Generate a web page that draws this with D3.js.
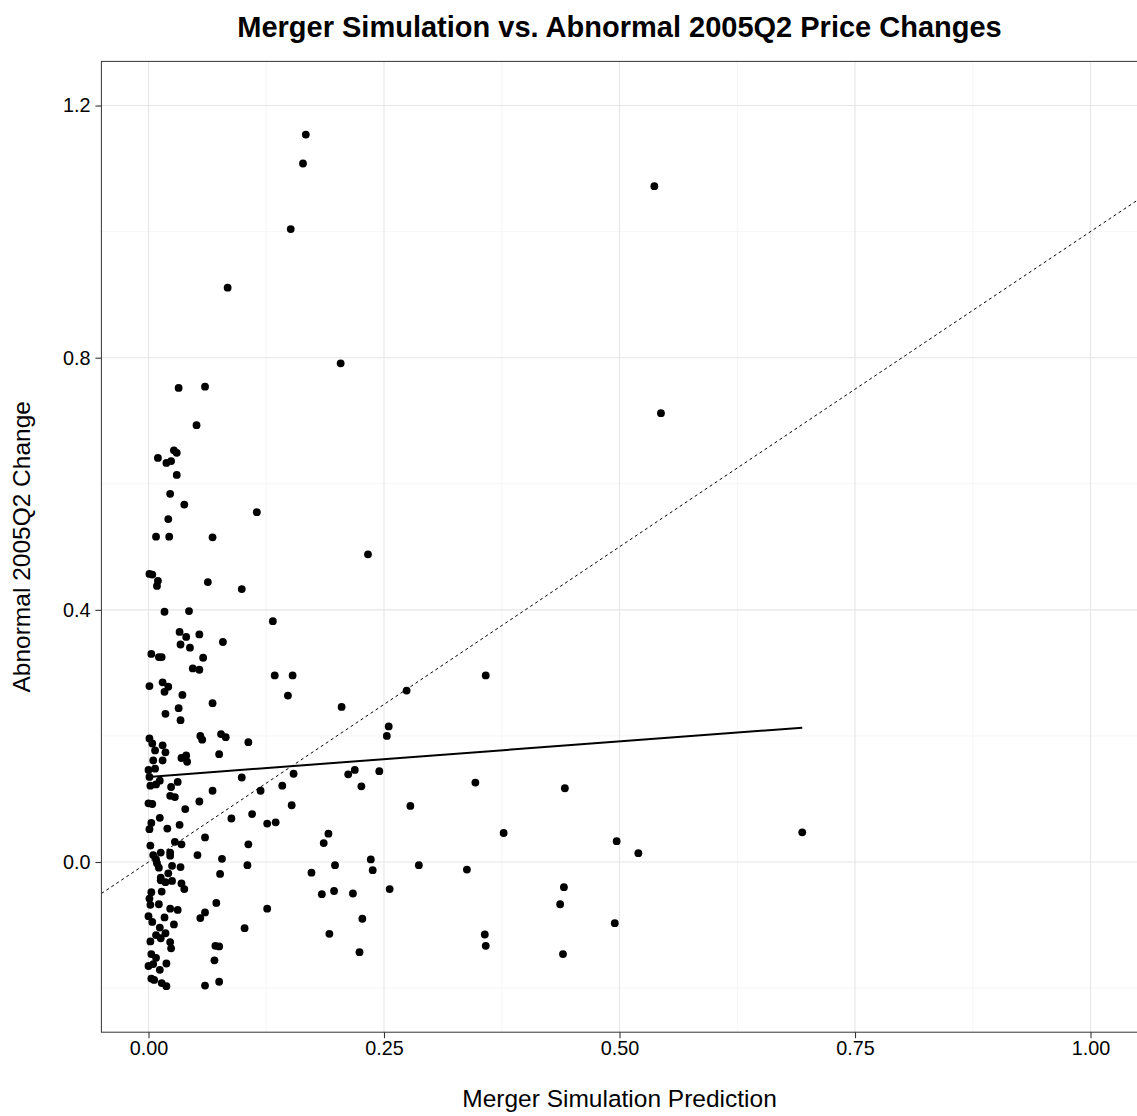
<!DOCTYPE html>
<html>
<head>
<meta charset="utf-8">
<script src="https://cdn.jsdelivr.net/npm/d3@7"></script>
<style>
  body { margin: 0; background: #fff; }
  svg { display: block; font-family: "Liberation Sans", Arial, Helvetica, sans-serif; }
</style>
</head>
<body>
<svg id="chart" width="1137" height="1116"></svg>
<script>
// merger simulation prediction (x) and abnormal 2005Q2 change (y)
var prediction = [
    0.167, 0.164, 0.151, 0.084, 0.204, 0.537, 0.544,
    0.032, 0.060, 0.051, 0.027, 0.030, 0.010, 0.024, 0.019, 0.030, 0.023,
    0.038, 0.115, 0.021, 0.008, 0.022, 0.068, 0.233, 0.001, 0.004, 0.010,
    0.009, 0.063, 0.099, 0.017, 0.043, 0.132, 0.033, 0.040, 0.054, 0.079,
    0.034, 0.044, 0.003, 0.011, 0.014, 0.058, 0.047, 0.054, 0.134, 0.153,
    0.001, 0.015, 0.021, 0.017, 0.036, 0.148,
    0.068, 0.205, 0.018, 0.032, 0.034, 0.255, 0.253, 0.001, 0.004, 0.055,
    0.057, 0.077, 0.082, 0.106, 0.015, 0.007, 0.018, 0.075, 0.035, 0.040,
    0.041, 0.005, 0.015, 0.000, 0.007, 0.001, 0.031, 0.012, 0.002, 0.008,
    0.024, 0.099, 0.154, 0.212, 0.219, 0.245, 0.226, 0.119, 0.142, 0.068,
    0.023, 0.028, 0.000, 0.004, 0.054, 0.152, 0.039, 0.012, 0.088, 0.110,
    0.126, 0.135, 0.003, 0.001, 0.020, 0.033, 0.060, 0.191, 0.186, 0.028,
    0.035, 0.002, 0.106, 0.005, 0.013, 0.023, 0.023, 0.052, 0.078, 0.236,
    0.008, 0.009, 0.025, 0.034, 0.105, 0.198, 0.238, 0.011, 0.076, 0.173,
    0.021, 0.013, 0.013, 0.025, 0.018, 0.035, 0.038, 0.256, 0.014, 0.003,
    0.184, 0.197, 0.217, 0.001, 0.002, 0.011, 0.072, 0.023, 0.031, 0.060,
    0.055, 0.126, 0.227, 0.000, 0.004, 0.017, 0.027, 0.012, 0.102, 0.018,
    0.008, 0.013, 0.192, 0.002, 0.023, 0.024, 0.071, 0.075, 0.003, 0.008,
    0.000, 0.005, 0.012, 0.019, 0.070, 0.224, 0.003, 0.006, 0.014, 0.019,
    0.060, 0.075,
    0.274, 0.358, 0.347, 0.442, 0.278, 0.377, 0.497, 0.520, 0.694, 0.287,
    0.338, 0.441, 0.437, 0.495, 0.357, 0.358, 0.440
];
var change = [
    1.154, 1.108, 1.004, 0.911, 0.791, 1.072, 0.712,
    0.752, 0.754, 0.693, 0.653, 0.649, 0.641, 0.636, 0.633, 0.614, 0.584,
    0.567, 0.555, 0.544, 0.516, 0.516, 0.515, 0.488, 0.457, 0.456, 0.446,
    0.438, 0.444, 0.433, 0.397, 0.398, 0.382, 0.365, 0.357, 0.361, 0.349,
    0.345, 0.340, 0.330, 0.325, 0.325, 0.324, 0.307, 0.305, 0.296, 0.296,
    0.279, 0.285, 0.278, 0.270, 0.265, 0.264,
    0.252, 0.246, 0.235, 0.244, 0.225, 0.215, 0.200, 0.196, 0.188, 0.200,
    0.194, 0.203, 0.198, 0.190, 0.185, 0.177, 0.174, 0.171, 0.165, 0.169,
    0.159, 0.161, 0.161, 0.146, 0.148, 0.135, 0.127, 0.129, 0.121, 0.123,
    0.119, 0.134, 0.140, 0.139, 0.146, 0.144, 0.120, 0.113, 0.121, 0.113,
    0.105, 0.103, 0.093, 0.092, 0.096, 0.090, 0.084, 0.070, 0.069, 0.076,
    0.061, 0.063, 0.062, 0.052, 0.053, 0.059, 0.039, 0.045, 0.030, 0.032,
    0.028, 0.026, 0.028, 0.011, 0.015, 0.015, 0.010, 0.011, 0.005, 0.004,
    0.004, -0.002, -0.006, -0.008, -0.005, -0.005, -0.013, -0.009, -0.019, -0.017,
    -0.018, -0.025, -0.029, -0.030, -0.032, -0.034, -0.043, -0.043, -0.047, -0.048,
    -0.051, -0.046, -0.050, -0.058, -0.068, -0.067, -0.065, -0.074, -0.076, -0.080,
    -0.089, -0.074, -0.090, -0.086, -0.095, -0.088, -0.099, -0.104, -0.105, -0.113,
    -0.116, -0.121, -0.114, -0.126, -0.127, -0.137, -0.133, -0.134, -0.146, -0.152,
    -0.165, -0.162, -0.171, -0.161, -0.156, -0.143, -0.185, -0.187, -0.192, -0.197,
    -0.196, -0.190,
    0.272, 0.296, 0.126, 0.117, 0.089, 0.046, 0.033, 0.014, 0.047, -0.005,
    -0.012, -0.040, -0.067, -0.097, -0.115, -0.133, -0.146
];

// fitted linear trend, ends
var fitX = [0.000, 0.694];
var fitY = [0.135, 0.213];

var xTicks = [0, 0.25, 0.5, 0.75, 1];
var xMinor = [0.125, 0.375, 0.625, 0.875];
var yTicks = [0, 0.4, 0.8, 1.2];
var yMinor = [-0.2, 0.2, 0.6, 1.0];

var points = prediction.map(function(d, i) {
    return {x: d, y: change[i]};
});

var svg = d3.select('#chart');

var panel = {l: 101.4, r: 1137.6, t: 61.4, b: 1032.2};

var xScale = d3.scaleLinear().domain([-0.05, 1.05]).range([panel.l, panel.r]);
var yScale = d3.scaleLinear().domain([-0.27, 1.27]).range([panel.b, panel.t]);

svg.append('defs').append('clipPath')
    .attr('id', 'panel-clip')
    .append('rect')
    .attr('x', panel.l)
    .attr('y', panel.t)
    .attr('width', panel.r - panel.l)
    .attr('height', panel.b - panel.t);

var gridG = svg.append('g').attr('class', 'grid');

// minor grid first, then major
gridG.selectAll('.vminor')
    .data(xMinor)
    .enter().append('line')
    .attr('x1', function(d) { return xScale(d); })
    .attr('x2', function(d) { return xScale(d); })
    .attr('y1', panel.t).attr('y2', panel.b)
    .attr('stroke', '#f2f2f2').attr('stroke-width', 0.7);

gridG.selectAll('.hminor')
    .data(yMinor)
    .enter().append('line')
    .attr('y1', function(d) { return yScale(d); })
    .attr('y2', function(d) { return yScale(d); })
    .attr('x1', panel.l).attr('x2', panel.r)
    .attr('stroke', '#f2f2f2').attr('stroke-width', 0.7);

gridG.selectAll('.vmajor')
    .data(xTicks)
    .enter().append('line')
    .attr('x1', function(d) { return xScale(d); })
    .attr('x2', function(d) { return xScale(d); })
    .attr('y1', panel.t).attr('y2', panel.b)
    .attr('stroke', '#e6e6e6').attr('stroke-width', 1.1);

gridG.selectAll('.hmajor')
    .data(yTicks)
    .enter().append('line')
    .attr('y1', function(d) { return yScale(d); })
    .attr('y2', function(d) { return yScale(d); })
    .attr('x1', panel.l).attr('x2', panel.r)
    .attr('stroke', '#e6e6e6').attr('stroke-width', 1.1);

var plotG = svg.append('g').attr('clip-path', 'url(#panel-clip)');

// 45 degree reference line y = x
var domainX = xScale.domain();
plotG.append('line')
    .attr('x1', xScale(domainX[0])).attr('y1', yScale(domainX[0]))
    .attr('x2', xScale(domainX[1])).attr('y2', yScale(domainX[1]))
    .attr('stroke', '#000')
    .attr('stroke-width', 1)
    .attr('stroke-dasharray', '3,3');

plotG.selectAll('.dot')
    .data(points)
    .enter().append('circle')
    .attr('class', 'dot')
    .attr('cx', function(d) { return xScale(d.x); })
    .attr('cy', function(d) { return yScale(d.y); })
    .attr('r', 3.9)
    .attr('fill', '#000');

var fitLine = d3.line()
    .x(function(d) { return xScale(d[0]); })
    .y(function(d) { return yScale(d[1]); });

plotG.append('path')
    .datum(d3.zip(fitX, fitY))
    .attr('d', fitLine)
    .attr('fill', 'none')
    .attr('stroke', '#000')
    .attr('stroke-width', 2);

// panel border
svg.append('rect')
    .attr('x', panel.l).attr('y', panel.t)
    .attr('width', panel.r - panel.l)
    .attr('height', panel.b - panel.t)
    .attr('fill', 'none')
    .attr('stroke', '#333')
    .attr('stroke-width', 1);

var xAxis = d3.axisBottom(xScale)
    .tickValues(xTicks)
    .tickSize(6)
    .tickPadding(3)
    .tickFormat(d3.format('.2f'));

var yAxis = d3.axisLeft(yScale)
    .tickValues(yTicks)
    .tickSize(6)
    .tickPadding(5)
    .tickFormat(d3.format('.1f'));

var xG = svg.append('g')
    .attr('transform', 'translate(0,' + panel.b + ')')
    .call(xAxis);
var yG = svg.append('g')
    .attr('transform', 'translate(' + panel.l + ',0)')
    .call(yAxis);

[xG, yG].forEach(function(g) {
    g.select('.domain').remove();
    g.selectAll('.tick line').attr('stroke', '#333').attr('stroke-width', 1.1);
    g.selectAll('.tick text')
        .attr('fill', '#000')
        .style('font-size', '19.8px')
        .style('font-family', '"Liberation Sans", Arial, Helvetica, sans-serif');
});

svg.append('text')
    .attr('x', (panel.l + panel.r) / 2)
    .attr('y', 37)
    .attr('text-anchor', 'middle')
    .style('font-size', '29px')
    .style('font-weight', 'bold')
    .text('Merger Simulation vs. Abnormal 2005Q2 Price Changes');

svg.append('text')
    .attr('x', (panel.l + panel.r) / 2)
    .attr('y', 1107)
    .attr('text-anchor', 'middle')
    .style('font-size', '24.5px')
    .text('Merger Simulation Prediction');

svg.append('text')
    .attr('transform', 'translate(30,' + ((panel.t + panel.b) / 2) + ') rotate(-90)')
    .attr('text-anchor', 'middle')
    .style('font-size', '24.5px')
    .text('Abnormal 2005Q2 Change');
</script>
</body>
</html>
